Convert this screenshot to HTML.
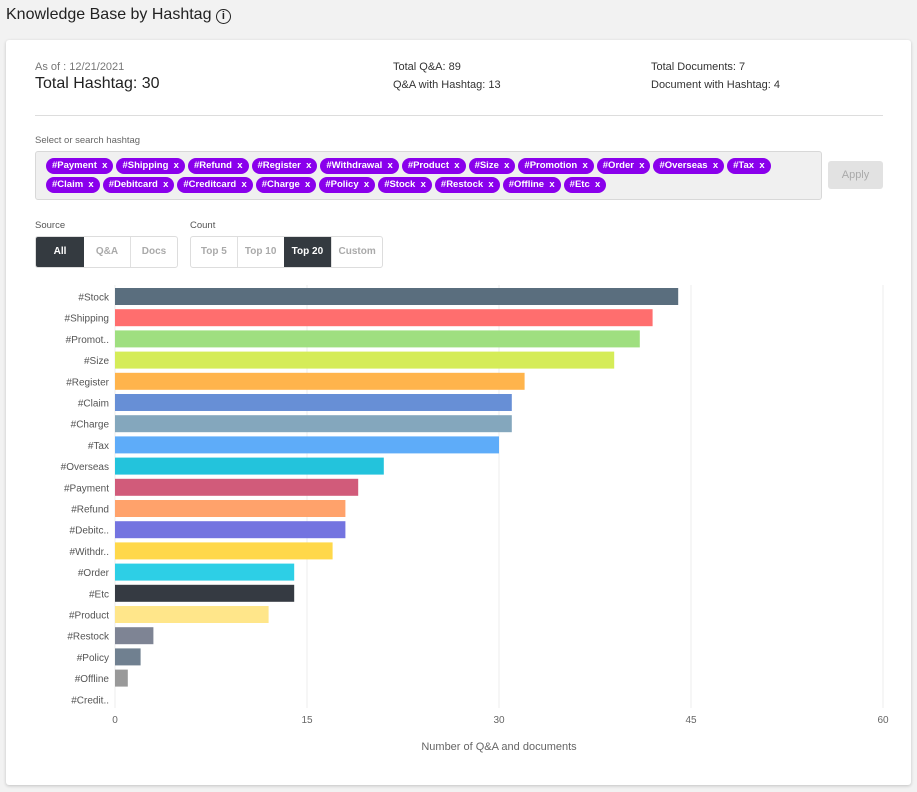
<!DOCTYPE html>
<html><head><meta charset="utf-8"><style>
body{margin:0;width:917px;height:792px;background:#f2f2f2;font-family:"Liberation Sans",sans-serif;position:relative;overflow:hidden;color:#222}
.abs{position:absolute}
.card{left:6px;top:40px;width:905px;height:745px;background:#fff;border-radius:3px;box-shadow:0 1px 3px rgba(0,0,0,.2)}
.small{font-size:11px;color:#333}
.chips{left:35px;top:151px;width:787px;height:49px;background:#f0f0f0;border:1px solid #d8d8d8;border-radius:3px;padding:6px 0 0 10px;box-sizing:border-box;line-height:0;white-space:nowrap}
.row{display:block;height:19px;white-space:nowrap}
.chip{display:inline-block;background:#8a00ec;color:#fff;font-size:9.5px;font-weight:bold;height:16px;line-height:16px;border-radius:8px;padding:0 6px;margin:0 3px 0 0;white-space:nowrap}
.btn{display:inline-block;height:30px;line-height:30px;text-align:center;font-size:10px;color:#aaa;border-right:1px solid #e0e0e0;font-weight:bold}
.grp{border:1px solid #ddd;border-radius:3px;display:flex;overflow:hidden;height:30px}
.on{background:#343a40;color:#fff}
</style></head><body>
<div class="abs" style="left:6px;top:6px;font-size:16px;color:#222">Knowledge Base by Hashtag <span style="display:inline-block;width:13px;height:13px;border:1.5px solid #222;border-radius:50%;font-size:11px;line-height:13px;text-align:center;font-weight:bold;vertical-align:0">i</span></div>
<div class="abs card"></div>
<div class="abs small" style="left:35px;top:61px;color:#777;font-size:11px">As of : 12/21/2021</div>
<div class="abs" style="left:35px;top:75px;font-size:16px">Total Hashtag: 30</div>
<div class="abs small" style="left:393px;top:61px">Total Q&amp;A: 89</div>
<div class="abs small" style="left:393px;top:79px">Q&amp;A with Hashtag: 13</div>
<div class="abs small" style="left:651px;top:61px">Total Documents: 7</div>
<div class="abs small" style="left:651px;top:79px">Document with Hashtag: 4</div>
<div class="abs" style="left:35px;top:115px;width:848px;height:1px;background:#ddd"></div>
<div class="abs" style="left:35px;top:135px;font-size:9.5px;color:#666">Select or search hashtag</div>
<div class="abs chips">
<span class="row"><span class="chip">#Payment&nbsp; x</span><span class="chip">#Shipping&nbsp; x</span><span class="chip">#Refund&nbsp; x</span><span class="chip">#Register&nbsp; x</span><span class="chip">#Withdrawal&nbsp; x</span><span class="chip">#Product&nbsp; x</span><span class="chip">#Size&nbsp; x</span><span class="chip">#Promotion&nbsp; x</span><span class="chip">#Order&nbsp; x</span><span class="chip">#Overseas&nbsp; x</span><span class="chip">#Tax&nbsp; x</span></span>
<span class="row"><span class="chip">#Claim&nbsp; x</span><span class="chip">#Debitcard&nbsp; x</span><span class="chip">#Creditcard&nbsp; x</span><span class="chip">#Charge&nbsp; x</span><span class="chip">#Policy&nbsp; x</span><span class="chip">#Stock&nbsp; x</span><span class="chip">#Restock&nbsp; x</span><span class="chip">#Offline&nbsp; x</span><span class="chip">#Etc&nbsp; x</span></span>
</div>
<div class="abs" style="left:828px;top:161px;width:55px;height:28px;background:#e2e2e2;border-radius:3px;color:#aaa;font-size:11px;line-height:28px;text-align:center">Apply</div>
<div class="abs" style="left:35px;top:220px;font-size:9.5px;color:#555">Source</div>
<div class="abs grp" style="left:35px;top:236px;width:141px">
<span class="btn on" style="width:48px;border:none">All</span><span class="btn" style="width:46px">Q&amp;A</span><span class="btn" style="width:46px;border:none">Docs</span></div>
<div class="abs" style="left:190px;top:220px;font-size:9.5px;color:#555">Count</div>
<div class="abs grp" style="left:190px;top:236px;width:191px">
<span class="btn" style="width:46px">Top 5</span><span class="btn" style="width:46px;border:none">Top 10</span><span class="btn on" style="width:48px">Top 20</span><span class="btn" style="width:50px;border:none">Custom</span></div>
<svg class="abs" style="left:0;top:0" width="917" height="792" id="chart"></svg>
<script>
const categories=["#Stock","#Shipping","#Promot..","#Size","#Register","#Claim","#Charge","#Tax","#Overseas","#Payment","#Refund","#Debitc..","#Withdr..","#Order","#Etc","#Product","#Restock","#Policy","#Offline","#Credit.."];
const values=[44,42,41,39,32,31,31,30,21,19,18,18,17,14,14,12,3,2,1,0];
const colors=["#5a6e7e","#ff6e6e","#9fdf80","#d5ec58","#ffb44c","#678fd6","#84a7bd","#5eacf9","#23c3dc","#d15b7a","#ffa26b","#7474e0","#ffd84a","#2dcfe6","#353a42","#ffe68a","#7e8494","#708090","#999999","#cccccc"];
const ticks=[0,15,30,45,60];
const svg=document.getElementById('chart');const NS='http://www.w3.org/2000/svg';
const x=v=>115+v*(883-115)/60;
const y=i=>288+i*21.2;
function mk(t,a){const e=document.createElementNS(NS,t);for(const k in a)e.setAttribute(k,a[k]);svg.appendChild(e);return e;}
ticks.forEach(t=>{
 const l=mk('line',{x1:x(t),x2:x(t),y1:285,y2:708,stroke:'#ececec'});
 
 
 const tx=mk('text',{x:x(t),y:723,'text-anchor':'middle','font-size':10,fill:'#666'});tx.textContent=t;
 
 
});
categories.forEach((c,i)=>{
 const r=mk('rect',{x:x(0),y:y(i),width:x(values[i])-x(0),height:17,fill:colors[i]});
 
 
 const t=mk('text',{x:109,y:y(i)+12.5,'text-anchor':'end','font-size':10,fill:'#555'});t.textContent=c;
 
 
});
const at=mk('text',{x:499,y:750,'text-anchor':'middle','font-size':11,fill:'#666'});at.textContent='Number of Q&A and documents';


</script>
</body></html>
